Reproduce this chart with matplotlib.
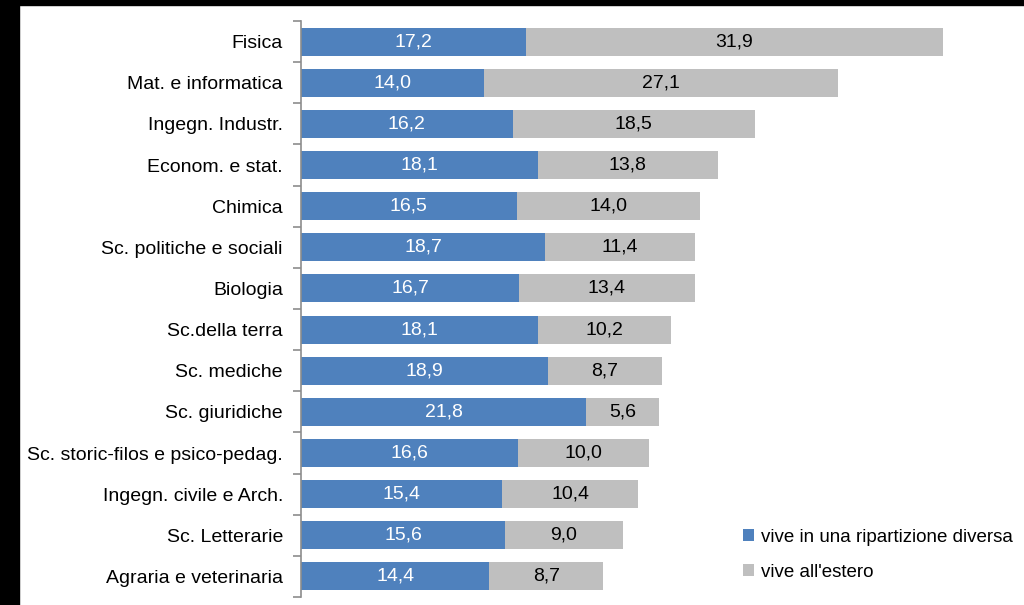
import numpy as np
import matplotlib.pyplot as plt
from matplotlib.patches import Rectangle

categories = ["Fisica", "Mat. e informatica", "Ingegn. Industr.", "Econom. e stat.",
              "Chimica", "Sc. politiche e sociali", "Biologia", "Sc.della terra",
              "Sc. mediche", "Sc. giuridiche", "Sc. storic-filos e psico-pedag.",
              "Ingegn. civile e Arch.", "Sc. Letterarie", "Agraria e veterinaria"]
diversa = [17.2, 14.0, 16.2, 18.1, 16.5, 18.7, 16.7, 18.1, 18.9, 21.8, 16.6, 15.4, 15.6, 14.4]
estero = [31.9, 27.1, 18.5, 13.8, 14.0, 11.4, 13.4, 10.2, 8.7, 5.6, 10.0, 10.4, 9.0, 8.7]
series_names = ["vive in una ripartizione diversa", "vive all'estero"]

BLUE = "#4f81bd"
GRAY = "#bfbfbf"
FS = 14

plt.rcParams["font.family"] = ["Liberation Sans", "DejaVu Sans"]

fig = plt.figure(figsize=(10.24, 6.05), dpi=100, facecolor="white")
ax = fig.add_axes([301 / 1024, 8 / 605, 1 - 301 / 1024, 576 / 605])

y = np.arange(len(categories))
d = np.array(diversa)
e = np.array(estero)
b1 = ax.barh(y, d, height=0.68, color=BLUE, label=series_names[0])
b2 = ax.barh(y, e, left=d, height=0.68, color=GRAY, label=series_names[1])

for i in range(len(categories)):
    ax.text(d[i] / 2, y[i], f"{d[i]:.1f}".replace(".", ","), ha="center", va="center",
            color="white", fontsize=FS)
    ax.text(d[i] + e[i] / 2, y[i], f"{e[i]:.1f}".replace(".", ","), ha="center",
            va="center", color="black", fontsize=FS)

ax.set_ylim(len(categories) - 0.5, -0.5)
ax.set_xlim(0, 55.3)
ax.set_yticks(y)
ax.set_yticklabels(categories, fontsize=FS)
ax.set_yticks(np.arange(-0.5, len(categories), 1), minor=True)
ax.tick_params(axis="y", which="major", length=0, pad=13)
ax.tick_params(axis="y", which="minor", length=6, color="#8c8c8c", width=1.2)
ax.set_xticks([])
for s in ["top", "right", "bottom"]:
    ax.spines[s].set_visible(False)
ax.spines["left"].set_color("#8c8c8c")
ax.spines["left"].set_linewidth(1.2)

fig.legend(handles=[b1, b2], labels=series_names, loc="upper left",
           bbox_to_anchor=(726 / 1024, 1 - 512 / 605), frameon=False, fontsize=13.5,
           handlelength=0.6, handleheight=0.6, handletextpad=0.35, labelspacing=0.95)

# black border strips from the original screenshot
fig.patches.append(Rectangle((0, 1 - 5 / 605), 1, 5 / 605, transform=fig.transFigure,
                             color="black", zorder=10))
fig.patches.append(Rectangle((0, 0), 19 / 1024, 1, transform=fig.transFigure,
                             color="black", zorder=10))

fig.savefig("out.png", dpi=100, facecolor="white")
